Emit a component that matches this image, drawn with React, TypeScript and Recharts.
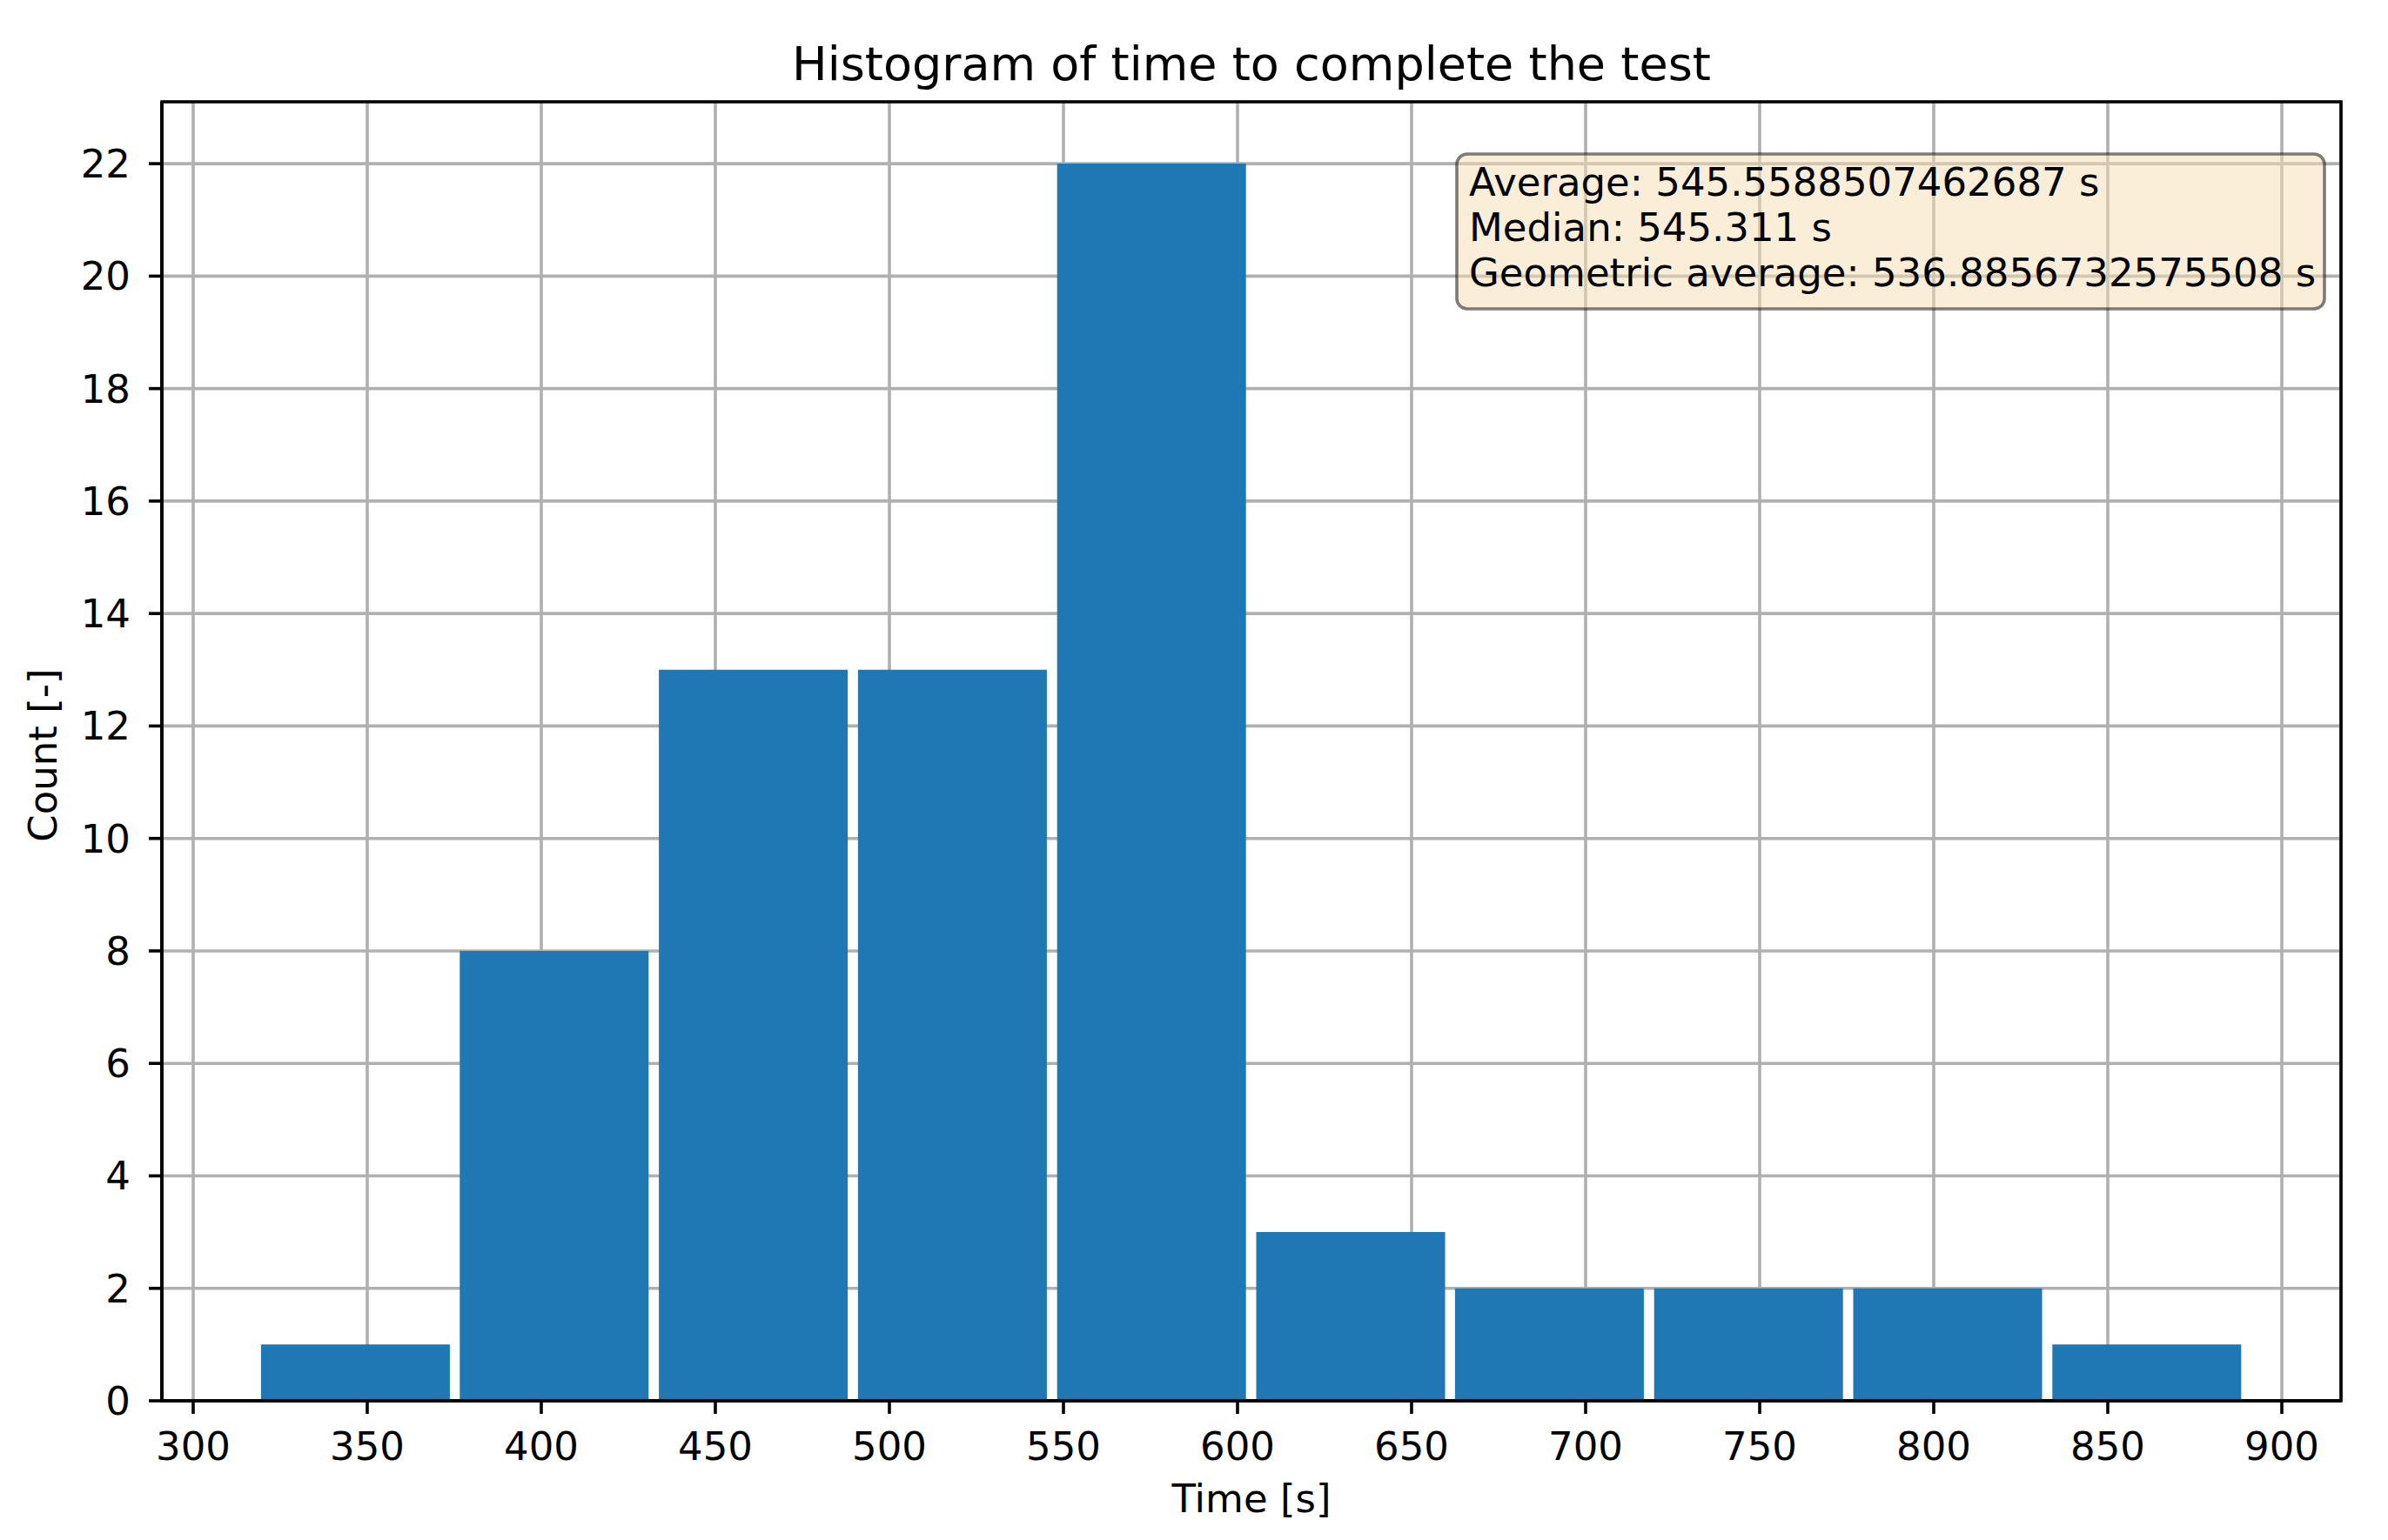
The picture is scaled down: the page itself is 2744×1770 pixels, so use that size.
import React from 'react'
import {
  BarChart, Bar, XAxis, YAxis, CartesianGrid, ReferenceArea
} from 'recharts'

// histogram bins (bin centres in seconds) and counts
const binCenters = [346.6, 403.7, 460.9, 518.1, 575.3, 632.5, 689.6, 746.8, 804.0, 861.2]
const counts = [1, 8, 13, 13, 22, 3, 2, 2, 2, 1]

const xTicks = [300, 350, 400, 450, 500, 550, 600, 650, 700, 750, 800, 850, 900]
const yTicks = [0, 2, 4, 6, 8, 10, 12, 14, 16, 18, 20, 22]

const title = 'Histogram of time to complete the test'
const xLabel = 'Time [s]'
const yLabel = 'Count [-]'
const statLines = [
  'Average: 545.5588507462687 s',
  'Median: 545.311 s',
  'Geometric average: 536.8856732575508 s',
]

const data = binCenters.map((c, i) => ({ center: c, count: counts[i] }))

const W = 2744
const H = 1770
const FONT = '"DejaVu Sans", sans-serif'
const tickStyle = { fontSize: 45, fill: '#000', fontFamily: FONT }

export default function App() {
  return (
    <div style={{ position: 'absolute', left: 0, top: 0, width: W, height: H, background: '#fff' }}>
      <BarChart
        width={W}
        height={H}
        data={data}
        margin={{ top: 117, right: 54, bottom: 60, left: 36 }}
        barCategoryGap="2.5%"
      >
        <CartesianGrid stroke="#b0b0b0" strokeWidth={3.6} />
        <XAxis
          dataKey="center"
          type="number"
          domain={[291, 917]}
          allowDataOverflow
          ticks={xTicks}
          interval={0}
          height={100}
          tick={tickStyle}
          tickSize={15}
          tickMargin={21}
          tickLine={{ stroke: '#000', strokeWidth: 3.6 }}
          axisLine={{ stroke: '#000', strokeWidth: 3.6 }}
        />
        <YAxis
          type="number"
          domain={[0, 23.1]}
          allowDataOverflow
          ticks={yTicks}
          interval={0}
          width={150}
          tick={tickStyle}
          tickSize={15}
          tickMargin={21}
          tickLine={{ stroke: '#000', strokeWidth: 3.6 }}
          axisLine={{ stroke: '#000', strokeWidth: 3.6 }}
        />
        <Bar dataKey="count" fill="#1f77b4" isAnimationActive={false} />
        <ReferenceArea x1={291} x2={917} y1={0} y2={23.1} fill="none" stroke="#000" strokeWidth={3.6} />
      </BarChart>
      <svg
        width={W}
        height={H}
        style={{ position: 'absolute', left: 0, top: 0, pointerEvents: 'none' }}
        fontFamily={FONT}
      >
        <text x={1438} y={92} textAnchor="middle" fontSize={54} fill="#000">{title}</text>
        <text x={1438} y={1738} textAnchor="middle" fontSize={45} fill="#000">{xLabel}</text>
        <text x={65} y={868} textAnchor="middle" fontSize={45} fill="#000" transform="rotate(-90 65 868)">{yLabel}</text>
        <rect
          x={1674} y={177} width={997} height={178} rx={12}
          fill="#f5deb3" fillOpacity={0.5}
          stroke="#000" strokeOpacity={0.5} strokeWidth={3.6}
        />
        {statLines.map((s, i) => (
          <text key={i} x={1688} y={225 + i * 52} fontSize={45} fill="#000">{s}</text>
        ))}
      </svg>
    </div>
  )
}
